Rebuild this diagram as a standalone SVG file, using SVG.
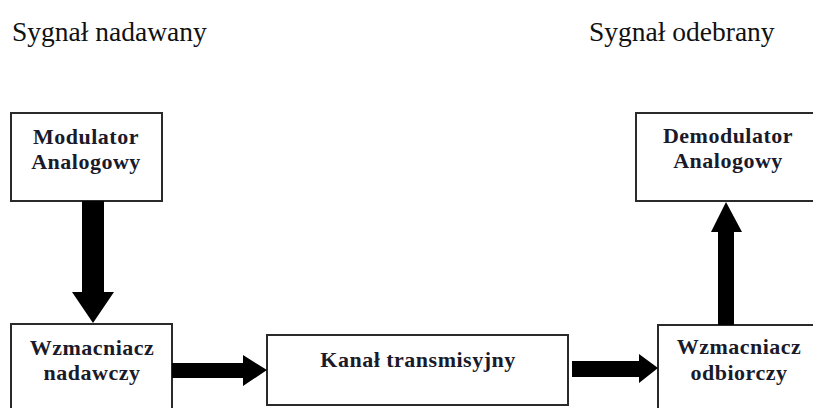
<svg xmlns="http://www.w3.org/2000/svg" width="813" height="408" viewBox="0 0 813 408">
<style>
.box{fill:#fff;stroke:#2a2a2a;stroke-width:2}
.lbl{font-family:"Liberation Serif","Times New Roman",serif;font-weight:bold;font-size:22px;fill:#1a1a2a;text-anchor:middle;letter-spacing:0.5px}
.hdr{font-family:"Liberation Serif","Times New Roman",serif;font-size:27.5px;fill:#111}
.arr{fill:#000}
</style>
<rect width="813" height="408" fill="#fff"/>
<text class="hdr" x="12" y="41">Sygnał nadawany</text>
<text class="hdr" x="589" y="41">Sygnał odebrany</text>
<g id="modulator">
<rect class="box" x="11" y="113" width="151" height="88"/>
<text class="lbl" x="86" y="144">Modulator</text>
<text class="lbl" x="86" y="169">Analogowy</text>
</g>
<g id="wzm-nad">
<rect class="box" x="11" y="324" width="161" height="100"/>
<text class="lbl" x="92" y="355">Wzmacniacz</text>
<text class="lbl" x="92" y="380">nadawczy</text>
</g>
<g id="kanal">
<rect class="box" x="267" y="335" width="301" height="70"/>
<text class="lbl" x="418" y="367">Kanał transmisyjny</text>
</g>
<g id="wzm-odb">
<rect class="box" x="658" y="325" width="170" height="100"/>
<text class="lbl" x="739" y="354">Wzmacniacz</text>
<text class="lbl" x="739" y="380">odbiorczy</text>
</g>
<g id="demodulator">
<rect class="box" x="636" y="113" width="190" height="88"/>
<text class="lbl" x="728" y="143">Demodulator</text>
<text class="lbl" x="728" y="168">Analogowy</text>
</g>
<g id="connectors">
<polygon class="arr" points="82,201 104,201 104,292 114,292 93,323 72,292 82,292"/>
<polygon class="arr" points="172,363 243,363 243,355 267,370 243,386 243,378 172,378"/>
<polygon class="arr" points="572,361 639,361 639,354 658,368 639,383 639,377 572,377"/>
<polygon class="arr" points="718,325 718,232 711,232 726,202 742,232 734,232 734,325"/>
</g>
</svg>
